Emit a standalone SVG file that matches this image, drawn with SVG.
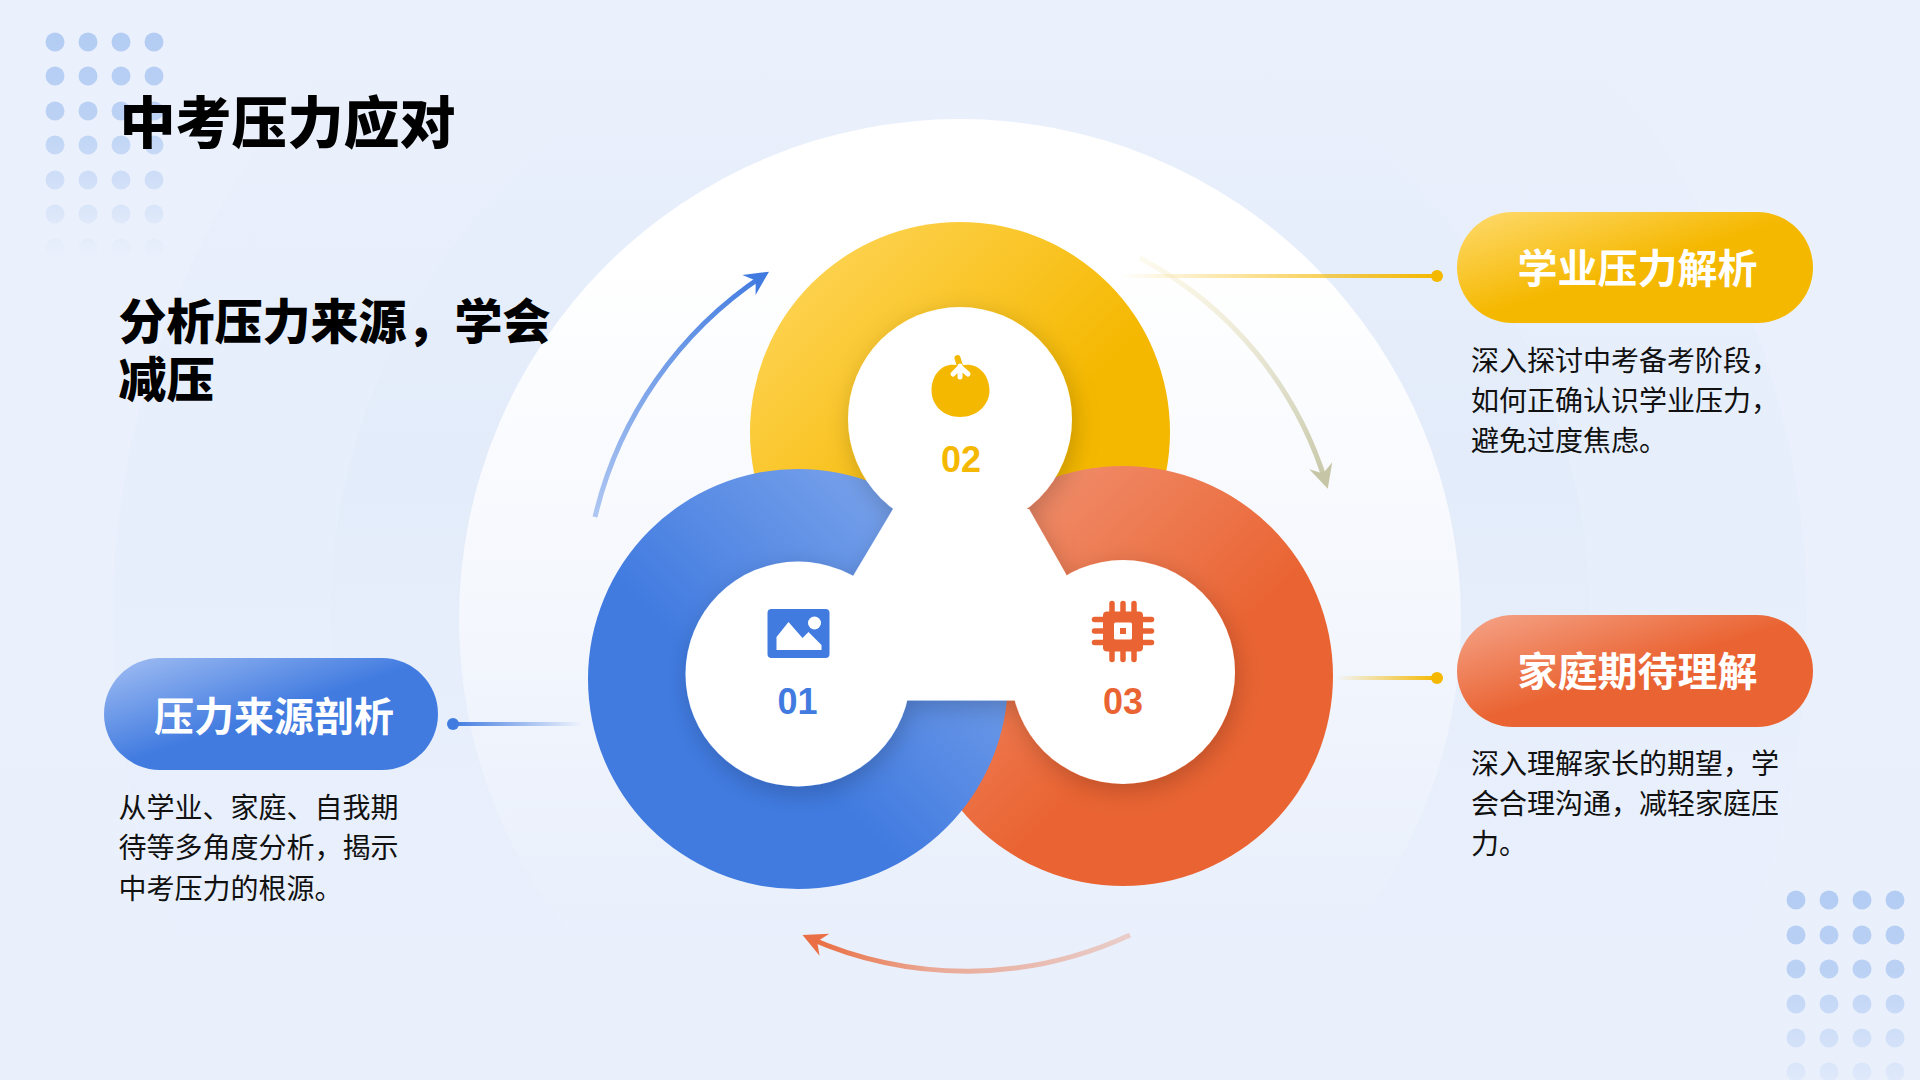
<svg xmlns="http://www.w3.org/2000/svg" width="1920" height="1080" viewBox="0 0 1920 1080">
  <defs>
    <linearGradient id="bg" x1="0" y1="0" x2="0" y2="1"><stop offset="0" stop-color="#ebf1fc"/><stop offset="1" stop-color="#e9f0fc"/></linearGradient>
    <linearGradient id="halo1" x1="0" y1="0" x2="0" y2="1"><stop offset="0.05" stop-color="#ccdcf6" stop-opacity="0"/><stop offset="0.4" stop-color="#ccdcf6" stop-opacity="0.12"/><stop offset="0.72" stop-color="#ccdcf6" stop-opacity="0"/></linearGradient>
    <linearGradient id="halo2" x1="0" y1="0" x2="0" y2="1"><stop offset="0.08" stop-color="#dbe6f8" stop-opacity="0"/><stop offset="0.4" stop-color="#dbe6f8" stop-opacity="0.3"/><stop offset="0.72" stop-color="#e9f0fc" stop-opacity="0"/></linearGradient>
    <linearGradient id="core" x1="0" y1="0" x2="0" y2="1"><stop offset="0" stop-color="#ffffff"/><stop offset="0.14" stop-color="#ffffff"/><stop offset="0.5" stop-color="#f4f7fd"/><stop offset="0.72" stop-color="#edf2fc" stop-opacity="0.7"/><stop offset="0.88" stop-color="#e9f0fc" stop-opacity="0"/></linearGradient>
    <linearGradient id="ringBlue" x1="1" y1="0" x2="0" y2="1"><stop offset="0.1" stop-color="#80a7ec"/><stop offset="0.6" stop-color="#417be0"/></linearGradient>
    <linearGradient id="ringYellow" x1="0" y1="0" x2="1" y2="1"><stop offset="0.05" stop-color="#ffd65c"/><stop offset="0.6" stop-color="#f5b800"/></linearGradient>
    <linearGradient id="ringOrange" x1="0" y1="0" x2="1" y2="1"><stop offset="0.1" stop-color="#f19373"/><stop offset="0.58" stop-color="#ea6433"/></linearGradient>
    <linearGradient id="pillBlue" x1="0" y1="0" x2="1" y2="1"><stop offset="0" stop-color="#a3bff3"/><stop offset="0.5" stop-color="#417be0"/></linearGradient>
    <linearGradient id="pillYellow" x1="0" y1="0" x2="1" y2="1"><stop offset="0" stop-color="#ffdb70"/><stop offset="0.5" stop-color="#f5b800"/></linearGradient>
    <linearGradient id="pillOrange" x1="0" y1="0" x2="1" y2="1"><stop offset="0" stop-color="#f5a58a"/><stop offset="0.5" stop-color="#ea6433"/></linearGradient>
    <linearGradient id="lineY1" gradientUnits="userSpaceOnUse" x1="1120" y1="0" x2="1437" y2="0"><stop offset="0" stop-color="#f5b800" stop-opacity="0"/><stop offset="1" stop-color="#f5b800"/></linearGradient>
    <linearGradient id="lineY2" gradientUnits="userSpaceOnUse" x1="1336" y1="0" x2="1437" y2="0"><stop offset="0" stop-color="#f5b800" stop-opacity="0"/><stop offset="1" stop-color="#f5b800"/></linearGradient>
    <linearGradient id="lineB" gradientUnits="userSpaceOnUse" x1="453" y1="0" x2="582" y2="0"><stop offset="0" stop-color="#417be0"/><stop offset="1" stop-color="#417be0" stop-opacity="0"/></linearGradient>
    <linearGradient id="arcB" gradientUnits="userSpaceOnUse" x1="595" y1="517" x2="766" y2="274"><stop offset="0" stop-color="#417be0" stop-opacity="0.4"/><stop offset="1" stop-color="#417be0"/></linearGradient>
    <linearGradient id="arcY" gradientUnits="userSpaceOnUse" x1="1140" y1="258" x2="1326" y2="483"><stop offset="0" stop-color="#f5e6b0" stop-opacity="0.2"/><stop offset="0.6" stop-color="#d8d6ba" stop-opacity="0.7"/><stop offset="1" stop-color="#c6c6a6"/></linearGradient>
    <linearGradient id="arcO" gradientUnits="userSpaceOnUse" x1="1130" y1="935" x2="808" y2="937"><stop offset="0" stop-color="#ea6433" stop-opacity="0.25"/><stop offset="0.6" stop-color="#ea6433" stop-opacity="0.5"/><stop offset="1" stop-color="#ea6433" stop-opacity="0.95"/></linearGradient>
    <linearGradient id="dotsTop" gradientUnits="userSpaceOnUse" x1="0" y1="30" x2="0" y2="258"><stop offset="0" stop-color="#b3ccf3"/><stop offset="0.4" stop-color="#b3ccf3" stop-opacity="0.85"/><stop offset="1" stop-color="#b3ccf3" stop-opacity="0"/></linearGradient>
    <linearGradient id="dotsBottom" gradientUnits="userSpaceOnUse" x1="0" y1="888" x2="0" y2="1095"><stop offset="0" stop-color="#b3ccf3"/><stop offset="0.4" stop-color="#b3ccf3" stop-opacity="0.85"/><stop offset="1" stop-color="#b3ccf3" stop-opacity="0.1"/></linearGradient>
    <filter id="plateShadow" x="-20%" y="-20%" width="140%" height="140%"><feDropShadow dx="3" dy="7" stdDeviation="12" flood-color="#000000" flood-opacity="0.2"/></filter>
    <marker id="headB" viewBox="-26 -13 28 26" refX="-6" refY="0" markerWidth="28" markerHeight="26" markerUnits="userSpaceOnUse" orient="auto"><path d="M0,0 L-24,-12 L-16,0 L-24,12 Z" fill="#417be0"/></marker>
    <marker id="headY" viewBox="-26 -13 28 26" refX="-6" refY="0" markerWidth="28" markerHeight="26" markerUnits="userSpaceOnUse" orient="auto"><path d="M0,0 L-24,-12 L-16,0 L-24,12 Z" fill="#c6c6a6"/></marker>
    <marker id="headO" viewBox="-26 -13 28 26" refX="-6" refY="0" markerWidth="28" markerHeight="26" markerUnits="userSpaceOnUse" orient="auto"><path d="M0,0 L-24,-12 L-16,0 L-24,12 Z" fill="#ea6f45"/></marker>
  </defs>
  <style>
    .cjk { font-family: "Noto Sans CJK SC", "Liberation Sans", sans-serif; }
    .title { font-size: 56px; font-weight: 900; fill: #000; }
    .sub { font-size: 48px; font-weight: 900; fill: #000; }
    .pillt { font-size: 40px; font-weight: 700; fill: #fff; text-anchor: middle; }
    .desc { font-size: 28px; fill: #111; }
    .num { font-family: "Liberation Sans", Arial, sans-serif; font-size: 36px; font-weight: 700; text-anchor: middle; }
    .arc { fill: none; stroke-width: 5; }
    .lead { stroke-width: 4; }
    .pin { fill: none; stroke: #ea6433; stroke-width: 5.5; stroke-linecap: round; }
  </style>

  <rect width="1920" height="1080" fill="url(#bg)"/>
  <circle cx="960" cy="620" r="847" fill="url(#halo1)"/>
  <circle cx="960" cy="620" r="630" fill="url(#halo2)"/>
  <circle cx="960" cy="620" r="501" fill="url(#core)"/>

  <g id="dots-top" fill="url(#dotsTop)">
    <circle cx="55" cy="42" r="9.5"/><circle cx="88" cy="42" r="9.5"/><circle cx="121" cy="42" r="9.5"/><circle cx="154" cy="42" r="9.5"/>
    <circle cx="55" cy="76" r="9.5"/><circle cx="88" cy="76" r="9.5"/><circle cx="121" cy="76" r="9.5"/><circle cx="154" cy="76" r="9.5"/>
    <circle cx="55" cy="111" r="9.5"/><circle cx="88" cy="111" r="9.5"/><circle cx="121" cy="111" r="9.5"/><circle cx="154" cy="111" r="9.5"/>
    <circle cx="55" cy="145" r="9.5"/><circle cx="88" cy="145" r="9.5"/><circle cx="121" cy="145" r="9.5"/><circle cx="154" cy="145" r="9.5"/>
    <circle cx="55" cy="180" r="9.5"/><circle cx="88" cy="180" r="9.5"/><circle cx="121" cy="180" r="9.5"/><circle cx="154" cy="180" r="9.5"/>
    <circle cx="55" cy="214" r="9.5"/><circle cx="88" cy="214" r="9.5"/><circle cx="121" cy="214" r="9.5"/><circle cx="154" cy="214" r="9.5"/>
    <circle cx="55" cy="248" r="9.5"/><circle cx="88" cy="248" r="9.5"/><circle cx="121" cy="248" r="9.5"/><circle cx="154" cy="248" r="9.5"/>
  </g>
  <g id="dots-bottom" fill="url(#dotsBottom)">
    <circle cx="1796" cy="900" r="9.5"/><circle cx="1829" cy="900" r="9.5"/><circle cx="1862" cy="900" r="9.5"/><circle cx="1895" cy="900" r="9.5"/>
    <circle cx="1796" cy="935" r="9.5"/><circle cx="1829" cy="935" r="9.5"/><circle cx="1862" cy="935" r="9.5"/><circle cx="1895" cy="935" r="9.5"/>
    <circle cx="1796" cy="969" r="9.5"/><circle cx="1829" cy="969" r="9.5"/><circle cx="1862" cy="969" r="9.5"/><circle cx="1895" cy="969" r="9.5"/>
    <circle cx="1796" cy="1004" r="9.5"/><circle cx="1829" cy="1004" r="9.5"/><circle cx="1862" cy="1004" r="9.5"/><circle cx="1895" cy="1004" r="9.5"/>
    <circle cx="1796" cy="1038" r="9.5"/><circle cx="1829" cy="1038" r="9.5"/><circle cx="1862" cy="1038" r="9.5"/><circle cx="1895" cy="1038" r="9.5"/>
    <circle cx="1796" cy="1072" r="9.5"/><circle cx="1829" cy="1072" r="9.5"/><circle cx="1862" cy="1072" r="9.5"/><circle cx="1895" cy="1072" r="9.5"/>
  </g>

  <g id="heading" class="cjk">
    <text class="title" x="119.500" y="143">中考压力应对</text>
    <text class="sub" x="118.500" y="339">分析压力来源，学会</text>
    <text class="sub" x="118.500" y="397">减压</text>
  </g>

  <g id="rings">
    <circle cx="960" cy="432" r="210" fill="url(#ringYellow)"/>
    <circle cx="1123" cy="676" r="210" fill="url(#ringOrange)"/>
    <circle cx="798" cy="679" r="210" fill="url(#ringBlue)"/>
  </g>
  <g id="plate" fill="#ffffff" filter="url(#plateShadow)">
    <path d="M893,509 H1029 L1066,574 L1110,700.5 H810 L853,576 Z"/>
    <circle cx="960" cy="419" r="112"/>
    <circle cx="798" cy="674" r="112.5"/>
    <circle cx="1123" cy="672" r="112"/>
  </g>

  <g id="connectors">
    <path class="lead" d="M1120,276 H1437" stroke="url(#lineY1)" fill="none"/>
    <circle cx="1437" cy="276" r="6" fill="#f5b800"/>
    <path class="lead" d="M1336,678 H1437" stroke="url(#lineY2)" fill="none"/>
    <circle cx="1437" cy="678" r="6" fill="#f5b800"/>
    <path class="lead" d="M453,724 H582" stroke="url(#lineB)" fill="none"/>
    <circle cx="453" cy="724" r="6" fill="#417be0"/>
    <path class="arc" d="M595,517 A400,400 0 0 1 764,275" stroke="url(#arcB)" marker-end="url(#headB)"/>
    <path class="arc" d="M1140,258 A380,380 0 0 1 1326,483" stroke="url(#arcY)" marker-end="url(#headY)"/>
    <path class="arc" d="M1130,935 A389,389 0 0 1 808,937.5" stroke="url(#arcO)" marker-end="url(#headO)"/>
  </g>

  <g id="node-01">
    <rect x="767.500" y="609" width="62" height="49" rx="4" fill="#417be0"/>
    <path d="M776.500,637 L788.500,622 L802.500,638 L808.500,632 L821.500,645 V650 H776.500 Z" fill="#ffffff"/>
    <circle cx="814.500" cy="623" r="6.5" fill="#ffffff"/>
    <text class="num" x="797.500" y="714" fill="#417be0">01</text>
    <rect x="104" y="658" width="334" height="112" rx="56" fill="url(#pillBlue)"/>
    <text class="cjk pillt" x="274" y="731">压力来源剖析</text>
    <text class="cjk desc" x="118.500" y="818">从学业、家庭、自我期</text>
    <text class="cjk desc" x="118.500" y="858">待等多角度分析，揭示</text>
    <text class="cjk desc" x="118.500" y="899">中考压力的根源。</text>
  </g>

  <g id="node-02">
    <path d="M960,366 C975,361 989,372 989.5,390 C989.5,406 976,417 960,417 C944,417 931.5,406 931.5,390 C932,372 945,361 960,366 Z" fill="#f5b800"/>
    <path d="M957.500,358 L960,366" stroke="#f5b800" stroke-width="6" stroke-linecap="round" fill="none"/>
    <path d="M960,366 V377 M960,367 L953,374 M960,367 L968,374" stroke="#ffffff" stroke-width="5" stroke-linecap="round" fill="none"/>
    <text class="num" x="961" y="472" fill="#f5b800">02</text>
    <rect x="1457" y="212" width="356" height="111" rx="55.5" fill="url(#pillYellow)"/>
    <text class="cjk pillt" x="1637.500" y="283">学业压力解析</text>
    <text class="cjk desc" x="1471" y="371">深入探讨中考备考阶段，</text>
    <text class="cjk desc" x="1471" y="411">如何正确认识学业压力，</text>
    <text class="cjk desc" x="1471" y="451">避免过度焦虑。</text>
  </g>

  <g id="node-03">
    <path class="pin" d="M1112,603.500 V659.500 M1123,603.500 V659.500 M1134,603.500 V659.500 M1094.500,619.500 H1151.500 M1094.500,631 H1151.500 M1094.500,642.500 H1151.500"/>
    <rect x="1103" y="611.500" width="40" height="40" rx="4" fill="#ea6433"/>
    <rect x="1114" y="622.500" width="18" height="17" rx="1.500" fill="#ffffff"/>
    <rect x="1120" y="628" width="6" height="6" fill="#ea6433"/>
    <text class="num" x="1123" y="714" fill="#ea6433">03</text>
    <rect x="1457" y="615" width="356" height="112" rx="56" fill="url(#pillOrange)"/>
    <text class="cjk pillt" x="1637.500" y="686">家庭期待理解</text>
    <text class="cjk desc" x="1471" y="774">深入理解家长的期望，学</text>
    <text class="cjk desc" x="1471" y="814">会合理沟通，减轻家庭压</text>
    <text class="cjk desc" x="1471" y="854">力。</text>
  </g>
</svg>
